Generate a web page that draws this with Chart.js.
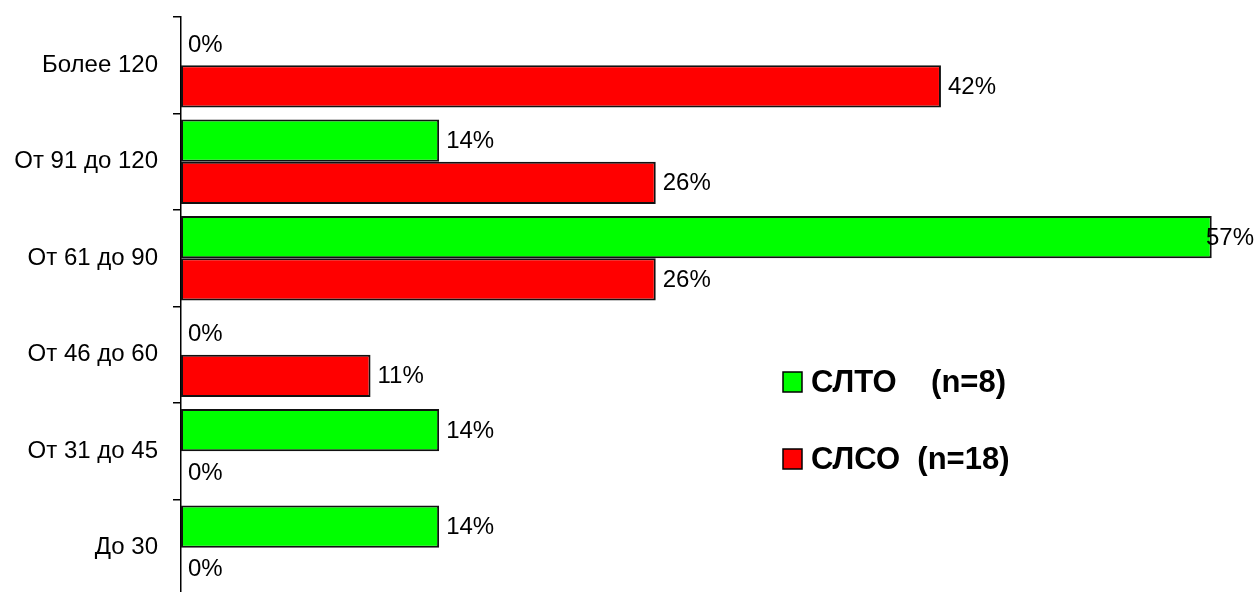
<!DOCTYPE html>
<html>
<head>
<meta charset="utf-8">
<script src="https://cdn.jsdelivr.net/npm/chart.js@4/dist/chart.umd.min.js"></script>
<style>
html,body{margin:0;padding:0;overflow:hidden;background:#fff;}
#wrap{width:1257px;height:600px;}
</style>
</head>
<body>
<div id="wrap"><canvas id="c" width="1257" height="600"></canvas></div>
<script>
const categories = ['Более 120', 'От 91 до 120', 'От 61 до 90', 'От 46 до 60', 'От 31 до 45', 'До 30'];
const slto = [0, 14.3, 57.1, 0, 14.3, 14.3];
const slso = [42.1, 26.3, 26.3, 10.5, 0, 0];
const seriesNames = ['СЛТО    (n=8)', 'СЛСО  (n=18)'];
const seriesColors = ['#00FF00', '#FF0000'];

const FONT = "'Liberation Sans', Arial, sans-serif";

const valueLabels = {
  id: 'valueLabels',
  afterDatasetsDraw(chart) {
    const ctx = chart.ctx;
    ctx.save();
    ctx.font = '24px ' + FONT;
    ctx.fillStyle = '#000';
    ctx.textBaseline = 'middle';
    ctx.textAlign = 'left';
    chart.data.datasets.forEach((ds, i) => {
      const meta = chart.getDatasetMeta(i);
      meta.data.forEach((el, j) => {
        const txt = Math.round(ds.data[j]) + '%';
        const w = ctx.measureText(txt).width;
        let x = el.x + 7;
        if (x + w > chart.width - 3) x = chart.width - 3 - w;
        ctx.fillText(txt, x, el.y + 1);
      });
    });
    ctx.restore();
  }
};

const customLegend = {
  id: 'customLegend',
  afterDraw(chart) {
    const ctx = chart.ctx;
    ctx.save();
    const ys = [382, 459];
    chart.data.datasets.forEach((ds, i) => {
      const y = ys[i];
      ctx.fillStyle = ds.backgroundColor;
      ctx.fillRect(783, y - 10, 19, 20);
      ctx.lineWidth = 1.5;
      ctx.strokeStyle = '#000';
      ctx.strokeRect(783, y - 10, 19, 20);
      ctx.fillStyle = '#000';
      ctx.font = 'bold 31px ' + FONT;
      ctx.textBaseline = 'middle';
      ctx.fillText(ds.label, 811, y + 1);
    });
    ctx.restore();
  }
};

new Chart(document.getElementById('c'), {
  type: 'bar',
  data: {
    labels: categories,
    datasets: [
      { label: seriesNames[0], data: slto, backgroundColor: seriesColors[0], borderColor: '#111', borderWidth: 2, borderSkipped: false },
      { label: seriesNames[1], data: slso, backgroundColor: seriesColors[1], borderColor: '#111', borderWidth: 2, borderSkipped: false }
    ]
  },
  options: {
    indexAxis: 'y',
    responsive: false,
    animation: false,
    events: [],
    layout: { padding: { top: 17, bottom: 4, left: 0, right: 20 } },
    datasets: { bar: { categoryPercentage: 0.875, barPercentage: 1.0 } },
    scales: {
      x: {
        display: false,
        min: 0,
        max: 58.5
      },
      y: {
        offset: true,
        grid: { display: true, drawOnChartArea: false, drawTicks: true, tickLength: 8, color: '#000', lineWidth: 1.5, offset: true },
        border: { display: true, color: '#000', width: 1.5 },
        ticks: { color: '#000', font: { family: FONT, size: 24 }, padding: 15 },
        afterFit(scale) { scale.width = 181; scale.paddingTop = 0; scale.paddingBottom = 0; }
      }
    },
    plugins: {
      legend: { display: false },
      tooltip: { enabled: false }
    }
  },
  plugins: [valueLabels, customLegend]
});
</script>
</body>
</html>
